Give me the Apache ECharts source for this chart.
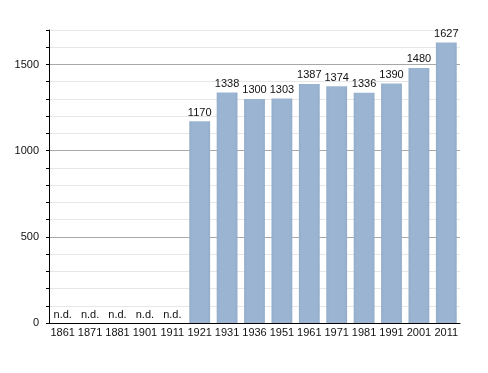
<!DOCTYPE html>
<html><head><meta charset="utf-8">
<script src="https://cdn.jsdelivr.net/npm/echarts@6/dist/echarts.min.js"></script>
<style>html,body{margin:0;padding:0;background:#fff}#c{width:488px;height:373px}</style>
</head><body><div id="c"></div>
<script>
const years = ['1861','1871','1881','1901','1911','1921','1931','1936','1951','1961','1971','1981','1991','2001','2011'];
const population = [null,null,null,null,null,1170,1338,1300,1303,1387,1374,1336,1390,1480,1627];
const missingLabel = 'n.d.';
const yMax = 1700;
const yLabelStep = 500;

const chart = echarts.init(document.getElementById('c'));
const font = 'Liberation Sans, Arial, sans-serif';
const gridColors = [];
for (let i = 0; i < 5; i++) gridColors.push(i === 0 ? '#a8a8a8' : '#e6e6e6');

chart.setOption({
  animation: false,
  grid: {left: 49, right: 28, top: 30, bottom: 50},
  xAxis: {
    type: 'category',
    data: years,
    axisLine: {lineStyle: {color: '#000', width: 1}},
    axisTick: {show: false},
    axisLabel: {color: '#111', fontFamily: font, fontSize: 11, margin: 4, interval: 0}
  },
  yAxis: {
    type: 'value',
    min: 0, max: yMax, interval: 100,
    axisLine: {show: true, lineStyle: {color: '#000'}},
    axisTick: {show: true, length: 3, lineStyle: {color: '#000'}},
    axisLabel: {
      color: '#111', fontFamily: font, fontSize: 11, margin: 10, interval: 0,
      formatter: v => (v % yLabelStep === 0 ? String(v) : '')
    },
    splitLine: {lineStyle: {color: gridColors, width: 1}}
  },
  series: [{
    type: 'bar',
    barWidth: '76%',
    data: population.map(v => v === null ? {value: 0, nd: true} : v),
    itemStyle: {
      color: new echarts.graphic.LinearGradient(0, 0, 1, 0, [
        {offset: 0, color: '#93adcb'},
        {offset: 0.15, color: '#9ab4d1'},
        {offset: 0.85, color: '#9ab4d1'},
        {offset: 1, color: '#93adcb'}
      ])
    },
    label: {
      show: true, position: 'top', distance: 3,
      color: '#111', fontFamily: font, fontSize: 11,
      formatter: p => (p.data && p.data.nd ? missingLabel : String(p.value))
    }
  }]
});
</script></body></html>
